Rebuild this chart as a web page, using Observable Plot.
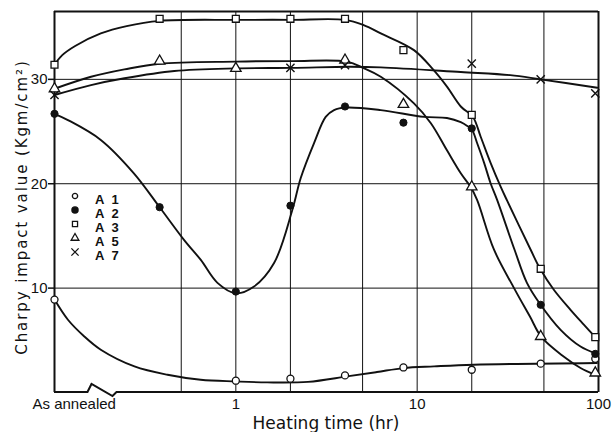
<!DOCTYPE html>
<html>
<head>
<meta charset="utf-8">
<script src="https://cdn.jsdelivr.net/npm/d3@7"></script>
<script src="https://cdn.jsdelivr.net/npm/@observablehq/plot@0.6"></script>
<style>
  html, body { margin: 0; padding: 0; background: #fff; }
  #chart { width: 612px; height: 432px; }
</style>
</head>
<body>
<div id="chart"></div>
<script>
// ---- Data ----
const seriesNames = ["A 1", "A 2", "A 3", "A 5", "A 7"];
const yTitle = "Charpy impact value (Kgm/cm²)";
const xTitle = "Heating time (hr)";
const annealedLabel = "As annealed";
const xTickValues = [1, 10, 100];
const yTickValues = [10, 20, 30];
const xGrid = [0.5, 1, 2, 5, 10, 20, 50];
const yGrid = [10, 20, 30];
const xDomain = [0.1, 100];
const yDomain = [0, 36.5];
const breakAt = 0.153;

// measured points
const a1Time = [0.1, 1, 2, 4, 8.4, 20, 48, 96];
const a1Value = [8.9, 1.13, 1.32, 1.64, 2.4, 2.18, 2.76, 3.23];
const a2Time = [0.1, 0.38, 1, 2, 4, 8.4, 20, 48, 96];
const a2Value = [26.7, 17.75, 9.67, 17.9, 27.4, 25.85, 25.3, 8.4, 3.7];
const a3Time = [0.1, 0.38, 1, 2, 4, 8.4, 20, 48, 96];
const a3Value = [31.4, 35.8, 35.8, 35.8, 35.8, 32.8, 26.6, 11.85, 5.3];
const a5Time = [0.1, 0.38, 1, 4, 8.4, 20, 48, 96];
const a5Value = [29.1, 31.75, 31.05, 31.85, 27.6, 19.7, 5.37, 1.87];
const a7Time = [0.1, 2, 4, 20, 48, 96];
const a7Value = [28.5, 31.1, 31.35, 31.5, 30.0, 28.66];

// hand-drawn fitted curves (knots)
const a1CurveTime = [0.1, 0.1186, 0.146, 0.18, 0.276, 0.42, 0.64, 1, 1.49, 2.5, 4.1, 6, 8.4, 12.4, 20.5, 98];
const a1CurveValue = [8.9, 6.97, 5.37, 4.1, 2.5, 1.7, 1.22, 1.06, 0.97, 1.02, 1.54, 1.96, 2.34, 2.5, 2.66, 2.82];
const a2CurveTime = [0.1, 0.1186, 0.18, 0.274, 0.38, 0.519, 0.641, 0.792, 1, 1.26, 1.625, 2.05, 2.28, 2.7, 3.13, 3.48, 4.07, 6.3, 10.9, 14.6, 17.4, 19, 20.1, 21.4, 23.4, 25.4, 27.6, 34.4, 40.3, 47.5, 61.8, 79.6, 96];
const a2CurveValue = [26.7, 26.1, 24.2, 21.0, 17.75, 14.6, 12.7, 10.5, 9.5, 10.15, 12.4, 17.5, 20.55, 23.9, 26.4, 27.06, 27.3, 27.05, 26.4, 26.3, 25.9, 25.5, 25.15, 23.9, 22.0, 20.05, 18.45, 13.7, 10.5, 8.5, 6.0, 4.4, 3.75];
const a3CurveTime = [0.1, 0.11, 0.13, 0.18, 0.25, 0.38, 1, 2, 4, 5.07, 6.3, 9.6, 12.3, 14.6, 17.4, 20.3, 22.4, 25.4, 28.9, 31.3, 42.2, 47.5, 56.7, 70.1, 83, 96];
const a3CurveValue = [31.4, 32.3, 33.2, 34.4, 35.1, 35.6, 35.7, 35.7, 35.7, 35.2, 34.4, 32.8, 30.9, 29.3, 27.4, 26.4, 24.5, 22.0, 19.7, 18.4, 13.7, 11.9, 9.84, 7.92, 6.5, 5.3];
const a5CurveTime = [0.1, 0.159, 0.243, 0.38, 1, 2.05, 4.1, 5.1, 6.3, 9.6, 11.9, 14.6, 17.4, 19.7, 21.4, 26.5, 34.1, 41.8, 48.5, 64.2, 79.6, 96];
const a5CurveValue = [29.1, 30.25, 30.95, 31.5, 31.7, 31.75, 31.7, 31.05, 30.25, 27.7, 25.8, 23.2, 21.0, 19.7, 18.45, 13.7, 10.05, 7.3, 5.3, 3.45, 2.35, 1.7];
const a7CurveTime = [0.1, 0.159, 0.243, 0.458, 1, 2.05, 4.2, 6.3, 17.4, 32.6, 47.9, 98.5];
const a7CurveValue = [28.5, 29.45, 30.1, 30.8, 31.05, 31.1, 31.2, 31.15, 30.7, 30.4, 30.0, 29.2];

// ---- Build tables ----
const table = (xs, ys) => xs.map((x, i) => ({x, y: ys[i]}));
const pts = [table(a1Time, a1Value), table(a2Time, a2Value), table(a3Time, a3Value), table(a5Time, a5Value), table(a7Time, a7Value)];
const curves = [
  table(a1CurveTime, a1CurveValue), table(a2CurveTime, a2CurveValue), table(a3CurveTime, a3CurveValue),
  table(a5CurveTime, a5CurveValue), table(a7CurveTime, a7CurveValue)
];
const ink = "#111";

const chart = Plot.plot({
  width: 612,
  height: 432,
  marginTop: 11,
  marginRight: 14,
  marginBottom: 40,
  marginLeft: 54,
  style: {fontFamily: "Liberation Sans", fontSize: "15px", color: ink, background: "white"},
  x: {type: "log", domain: xDomain},
  y: {domain: yDomain},
  marks: [
    Plot.ruleX(xGrid, {stroke: ink, strokeWidth: 1}),
    Plot.ruleY(yGrid, {stroke: ink, strokeWidth: 1}),
    Plot.ruleX(xDomain, {stroke: ink, strokeWidth: 2}),
    Plot.ruleY([yDomain[1]], {stroke: ink, strokeWidth: 2}),
    ...curves.map(c => Plot.line(c, {x: "x", y: "y", curve: "catmull-rom", stroke: ink, strokeWidth: 1.9})),
    Plot.dot(pts[0], {x: "x", y: "y", symbol: "circle", r: 3.5, fill: "white", stroke: ink, strokeWidth: 1.3}),
    Plot.dot(pts[1], {x: "x", y: "y", symbol: "circle", r: 3.6, fill: ink, stroke: ink, strokeWidth: 1}),
    Plot.dot(pts[2], {x: "x", y: "y", symbol: "square", r: 3.9, fill: "white", stroke: ink, strokeWidth: 1.3}),
    Plot.dot(pts[3], {x: "x", y: "y", symbol: "triangle", r: 3.9, fill: "white", stroke: ink, strokeWidth: 1.3}),
    Plot.dot(pts[4], {x: "x", y: "y", symbol: "times", r: 3.8, stroke: ink, strokeWidth: 1.4}),
    Plot.axisY(yTickValues, {tickSize: 6, tickPadding: 1, label: null, stroke: ink, strokeWidth: 1.5, tickFormat: d => String(d)}),
    Plot.axisX(xTickValues, {tickSize: 0, tickPadding: 6, label: null, tickFormat: d => String(d)}),
    Plot.text([annealedLabel], {x: () => xDomain[0], frameAnchor: "bottom", text: d => d, textAnchor: "start", lineAnchor: "middle", dx: -22, dy: 12, fontSize: 15})
  ]
});

document.getElementById("chart").appendChild(chart);

// ---- Decorations: bottom axis with break, axis titles, legend ----
const svg = d3.select(chart);
const sx = chart.scale("x"), sy = chart.scale("y");
const yb = sy.apply(yDomain[0]);
const xb = sx.apply(breakAt);
svg.append("path")
  .attr("d", `M${sx.apply(xDomain[0])},${yb}L${xb},${yb}L${xb + 4},${yb - 8}L${xb + 25},${yb + 4}L${xb + 29},${yb}L${sx.apply(xDomain[1])},${yb}`)
  .attr("fill", "none").attr("stroke", ink).attr("stroke-width", 2).attr("stroke-linejoin", "miter");

svg.append("text")
  .attr("transform", "translate(22,207) rotate(-90)")
  .attr("text-anchor", "middle")
  .attr("dominant-baseline", "middle")
  .style("font-family", "DejaVu Sans").style("font-size", "15px").style("letter-spacing", "1.9px")
  .attr("fill", ink)
  .text(yTitle);

svg.append("text")
  .attr("x", 326).attr("y", 429)
  .attr("text-anchor", "middle")
  .style("font-family", "DejaVu Sans").style("font-size", "17px")
  .attr("fill", ink)
  .text(xTitle);

const symbolTypes = [d3.symbolCircle, d3.symbolCircle, d3.symbolSquare, d3.symbolTriangle, d3.symbolTimes];
const symbolSizes = [22, 30, 26, 26, 36];
const legend = svg.append("g").attr("transform", "translate(75,196)");
seriesNames.forEach((name, i) => {
  const g = legend.append("g").attr("transform", `translate(0,${i * 14})`);
  g.append("path")
    .attr("d", d3.symbol(symbolTypes[i], symbolSizes[i])())
    .attr("fill", i === 1 ? ink : (i === 4 ? "none" : "white"))
    .attr("stroke", ink).attr("stroke-width", 1.3);
  g.append("text")
    .attr("x", 20).attr("y", 7.5)
    .attr("text-anchor", "start")
    .style("font-family", "Liberation Sans").style("font-size", "13px").style("font-weight", "bold").style("letter-spacing", "2px")
    .attr("fill", ink)
    .text(name);
});
</script>
</body>
</html>
